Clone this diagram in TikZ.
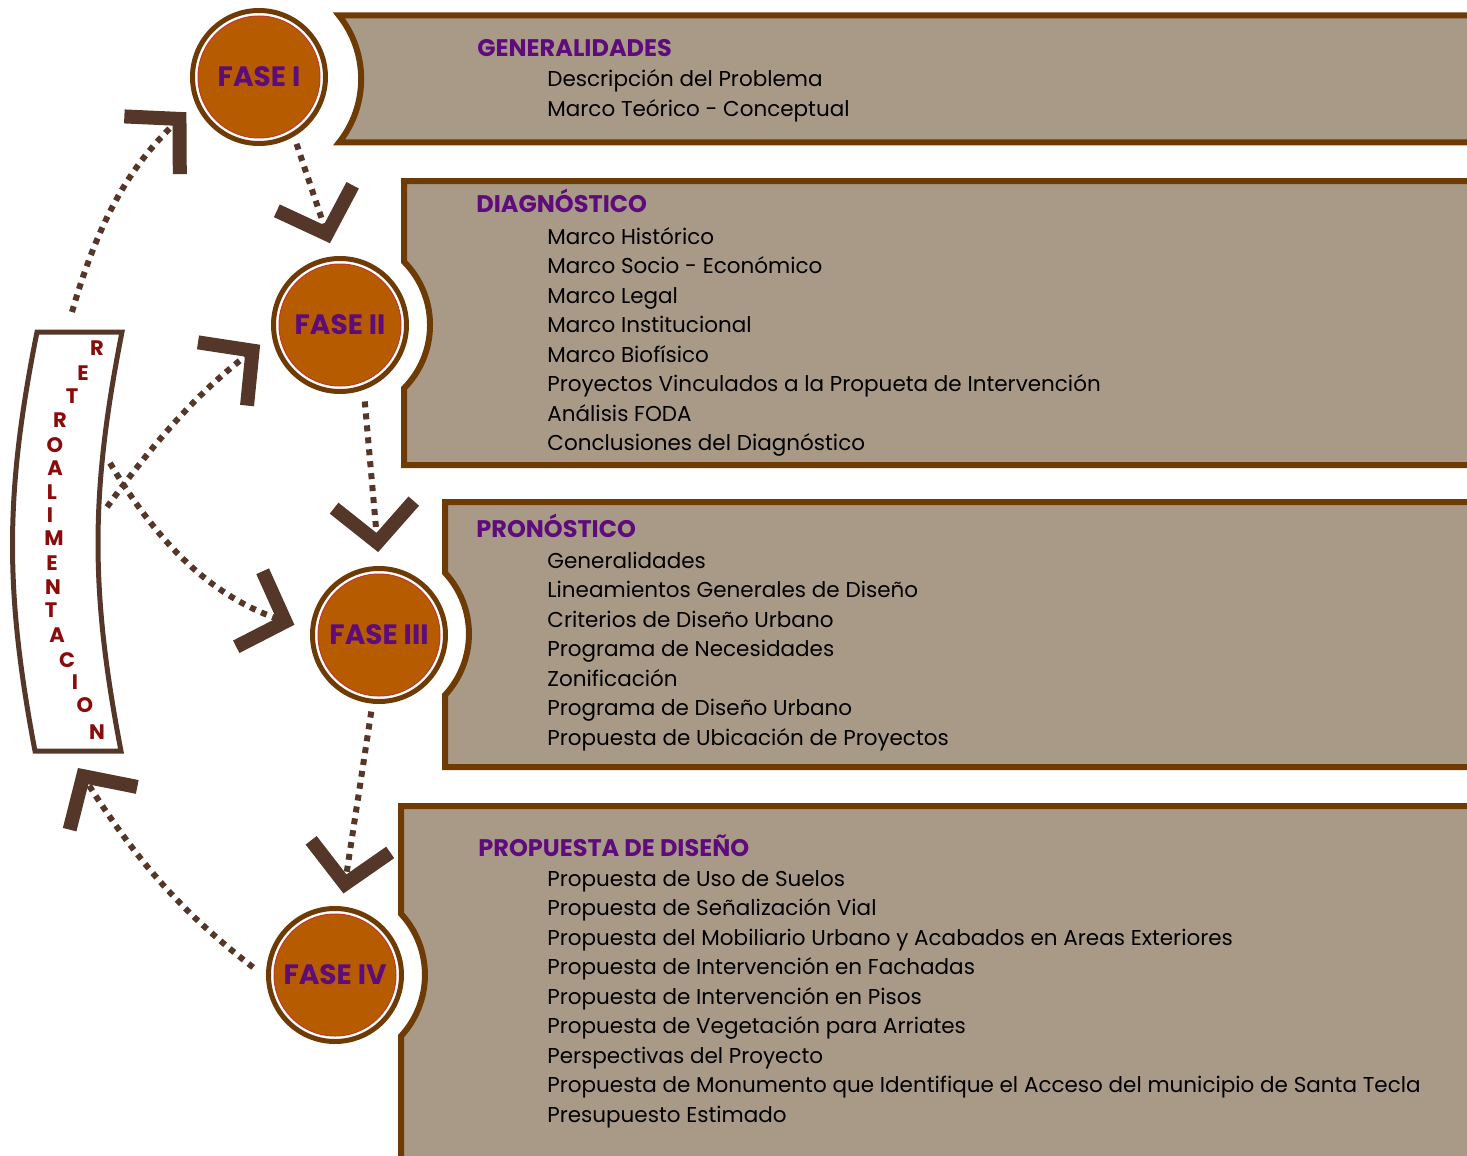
\documentclass[tikz,border=0pt]{standalone}
\usepackage{fontspec}
\setmainfont{Poppins}
\usetikzlibrary{arrows.meta}
\definecolor{panelfill}{HTML}{A89A87}
\definecolor{panelline}{HTML}{6E3B04}
\definecolor{diskorange}{HTML}{B65B00}
\definecolor{diskred}{HTML}{C0392B}
\definecolor{headpurple}{HTML}{5E0B7B}
\definecolor{arrowbrown}{HTML}{55372A}
\definecolor{letterred}{HTML}{8B0A0A}

\begin{document}
\begin{tikzpicture}[x=0.5pt, y=-0.5pt]
\tikzstyle{panel}=[draw=panelline, fill=panelfill, line width=3pt]
\tikzstyle{phase}=[circle, fill=diskorange, draw=diskred, line width=0.5pt, minimum size=61pt, inner sep=0pt, text=headpurple, font=\bfseries\fontsize{14}{14}\selectfont]
\tikzstyle{ring}=[draw=panelline, line width=2.5pt]
\tikzstyle{frame}=[draw=arrowbrown, line width=2.5pt, line join=miter]
\tikzstyle{heading}=[anchor=base west, inner sep=0pt, text=headpurple, font=\bfseries\fontsize{12}{12}\selectfont]
\tikzstyle{item}=[anchor=base west, inner sep=0pt, font=\fontsize{10.75}{12}\selectfont]
\tikzstyle{letter}=[inner sep=0pt, text=letterred, font=\bfseries\fontsize{10.5}{10.5}\selectfont]
\tikzstyle{drawstyle}=[draw=arrowbrown, line width=3pt, dash pattern=on 3pt off 3pt, -{Straight Barb[length=19pt, width=40pt, line width=7pt]}]

\useasboundingbox (0,0) rectangle (1467,1156);
\clip (0,0) rectangle (1467,1156);

% panels
\draw[panel] (1480,15.5) -- (339,15.5) arc[start angle=38.5, end angle=-38.5, radius=51pt] -- (1480,142.5);
\draw[panel] (1480,181) -- (404,181) -- (404,261.7) arc[start angle=44.7, end angle=-44.7, radius=45pt] -- (404,465) -- (1480,465);
\draw[panel] (1480,502) -- (445,502) -- (445,572.8) arc[start angle=42.8, end angle=-42.8, radius=45pt] -- (445,767) -- (1480,767);
\draw[panel] (1480,806) -- (401,806) -- (401,913.8) arc[start angle=42.8, end angle=-42.8, radius=45pt] -- (401,1170) -- (1480,1170);

% phases
\node[phase] (F1) at (259,77) {FASE I};
\draw[ring] (F1.center) circle (33.25pt);
\node[phase] (F2) at (340,325) {FASE II};
\draw[ring] (F2.center) circle (33.25pt);
\node[phase] (F3) at (379,635) {FASE III};
\draw[ring] (F3.center) circle (33.25pt);
\node[phase] (F4) at (335,975) {FASE IV};
\draw[ring] (F4.center) circle (33.25pt);

% panel texts
\node[heading] (T1x0) at (477,57) {GENERALIDADES};
\node[item] (T1x1) at (547,87) {Descripción del Problema};
\node[item] (T1x2) at (547,116.5) {Marco Teórico - Conceptual};

\node[heading] (T2x0) at (476,213) {DIAGNÓSTICO};
\node[item] (T2x1) at (547,244) {Marco Histórico};
\node[item] (T2x2) at (547,273.5) {Marco Socio - Económico};
\node[item] (T2x3) at (547,303) {Marco Legal};
\node[item] (T2x4) at (547,332.5) {Marco Institucional};
\node[item] (T2x5) at (547,362) {Marco Biofísico};
\node[item] (T2x6) at (547,391.5) {Proyectos Vinculados a la Propueta de Intervención};
\node[item] (T2x7) at (547,421) {Análisis FODA};
\node[item] (T2x8) at (547,450.5) {Conclusiones del Diagnóstico};

\node[heading] (T3x0) at (476,537) {PRONÓSTICO};
\node[item] (T3x1) at (547,568) {Generalidades};
\node[item] (T3x2) at (547,597.5) {Lineamientos Generales de Diseño};
\node[item] (T3x3) at (547,627) {Criterios de Diseño Urbano};
\node[item] (T3x4) at (547,656.5) {Programa de Necesidades};
\node[item] (T3x5) at (547,686) {Zonificación};
\node[item] (T3x6) at (547,715.5) {Programa de Diseño Urbano};
\node[item] (T3x7) at (547,745) {Propuesta de Ubicación de Proyectos};

\node[heading] (T4x0) at (478,856) {PROPUESTA DE DISEÑO};
\node[item] (T4x1) at (547,886) {Propuesta de Uso de Suelos};
\node[item] (T4x2) at (547,915.5) {Propuesta de Señalización Vial};
\node[item] (T4x3) at (547,945) {Propuesta del Mobiliario Urbano y Acabados en Areas Exteriores};
\node[item] (T4x4) at (547,974.5) {Propuesta de Intervención en Fachadas};
\node[item] (T4x5) at (547,1004) {Propuesta de Intervención en Pisos};
\node[item] (T4x6) at (547,1033.5) {Propuesta de Vegetación para Arriates};
\node[item] (T4x7) at (547,1063) {Perspectivas del Proyecto};
\node[item] (T4x8) at (547,1092.5) {Propuesta de Monumento que Identifique el Acceso del municipio de Santa Tecla};
\node[item] (T4x9) at (547,1122) {Presupuesto Estimado};

% feedback band
\draw[frame] (37,332) -- (122,332) to[bend right=11] (121,751) -- (35,751) to[bend left=11] cycle;
\node[letter] (L0) at (97,348) {R};
\node[letter] (L1) at (83,373) {E};
\node[letter] (L2) at (72,396) {T};
\node[letter] (L3) at (60,420) {R};
\node[letter] (L4) at (55,445) {O};
\node[letter] (L5) at (55,468) {A};
\node[letter] (L6) at (52,492) {L};
\node[letter] (L7) at (50,515) {I};
\node[letter] (L8) at (54,538) {M};
\node[letter] (L9) at (52,563) {E};
\node[letter] (L10) at (53,587) {N};
\node[letter] (L11) at (51,610) {T};
\node[letter] (L12) at (57,635) {A};
\node[letter] (L13) at (67,660) {C};
\node[letter] (L14) at (75,682) {I};
\node[letter] (L15) at (85,705) {O};
\node[letter] (L16) at (97,732) {N};
\coordinate (RBn) at (72,312);
\coordinate (RBe1) at (107,507);
\coordinate (RBe2) at (110,463);
\coordinate (RBs) at (78,768);

% arrows
\draw[drawstyle, shorten >=10.25pt] (RBn) to[bend left=15] (F1.200);
\draw[drawstyle, shorten <=7.75pt, shorten >=10.75pt] (F1.302) -- (F2.93);
\draw[drawstyle, shorten >=11.75pt] (RBe1) to[bend left=8] (F2.185);
\draw[drawstyle, shorten >=12.25pt] (RBe2) to[bend right=20] (F3.178);
\draw[drawstyle, shorten <=9.75pt, shorten >=10.75pt] (F2.292) -- (F3.89);
\draw[drawstyle, shorten <=7.75pt, shorten >=10.25pt] (F3.265) -- (F4.85);
\draw[drawstyle, shorten <=13.25pt] (F4.188) to[bend left=10] (RBs);
\end{tikzpicture}
\end{document}
